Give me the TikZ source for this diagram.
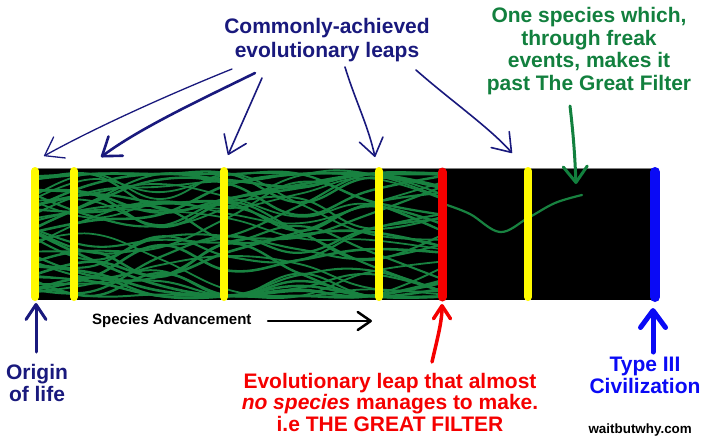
\documentclass[tikz,border=0pt]{standalone}
\usepackage{fontspec}
\setmainfont{Liberation Sans}
\usetikzlibrary{arrows.meta}
\definecolor{navy}{RGB}{25,25,125}
\definecolor{leafgreen}{RGB}{18,128,62}
\definecolor{bandgreen}{RGB}{24,130,64}
\definecolor{vivblue}{RGB}{10,10,245}
\definecolor{vivred}{RGB}{245,0,0}
\definecolor{vivyellow}{RGB}{255,250,0}
\tikzset{
  bar/.style={line width=8pt, line cap=round},
  big/.style={font=\fontsize{21}{#1}\selectfont\bfseries, align=center, inner sep=0pt},
  navyarrow/.style={navy, line width=1.6pt, line cap=round, -{Straight Barb[length=17pt,width=24pt,round]}},
  strand/.style={bandgreen, line cap=round},
}
\begin{document}
\begin{tikzpicture}[x=1pt,y=-1pt]
\useasboundingbox (0,0) rectangle (705,437);
\fill[white] (0,0) rectangle (705,437);
% band
\fill[black] (33,168) rectangle (654,300);
\draw[gray, line width=0.8pt] (33,168) -- (654,168);
% tangle of species
\begin{scope}
\clip (35,168) rectangle (442,300);
\pgfmathsetseed{2718}
\foreach \i in {1,...,42}{
  \pgfmathsetmacro\ya{176+rnd*120}
  \pgfmathsetmacro\yb{max(174,min(296,\ya+(rnd-0.5)*70))}
  \pgfmathsetmacro\yc{max(174,min(296,\yb+(rnd-0.5)*70))}
  \pgfmathsetmacro\yd{max(174,min(296,\yc+(rnd-0.5)*70))}
  \pgfmathsetmacro\ye{max(174,min(296,\yd+(rnd-0.5)*70))}
  \pgfmathsetmacro\yf{max(174,min(296,\ye+(rnd-0.5)*70))}
  \pgfmathsetmacro\yg{max(174,min(296,\yf+(rnd-0.5)*70))}
  \pgfmathsetmacro\lw{1.7+rnd*1.0}
  \draw[strand, line width=\lw pt] plot[smooth,tension=0.7] coordinates {(20,\ya) (90,\yb) (160,\yc) (230,\yd) (300,\ye) (370,\yf) (455,\yg)};
}
\end{scope}
% survivor strand
\draw[strand, line width=2.2pt] plot[smooth,tension=0.6] coordinates {(444,204) (470,214) (500,232) (528,218) (555,203) (582,195)};
% bars
\draw[bar, vivyellow] (35,171) -- (35,297);
\draw[bar, vivyellow] (74,171) -- (74,297);
\draw[bar, vivyellow] (224,171) -- (224,297);
\draw[bar, vivyellow] (379,171) -- (379,297);
\draw[bar, vivyellow] (528,171) -- (528,297);
\draw[bar, vivred, line width=9pt] (442,172) -- (442,297);
\draw[bar, vivblue, line width=10pt] (655,172) -- (655,297);
% texts
\node[big=24, navy] (common) at (327,40) {Commonly-achieved\\evolutionary leaps};
\node[big=22.7, leafgreen] (freak) at (589,51) {One species which,\\through freak\\events, makes it\\past The Great Filter};
\node[big=21.5, vivred] (filter) at (390,402) {Evolutionary leap that almost\\\textit{no species} manages to make.\\i.e THE GREAT FILTER};
\node[big=22, vivblue] (type3) at (645,375) {Type III\\Civilization};
\node[big=22, navy] (origin) at (37,383) {Origin\\of life};
\node[anchor=west, inner sep=0pt, font=\fontsize{15}{18}\selectfont\bfseries] (adv) at (92,321) {Species Advancement};
\node[anchor=east, inner sep=0pt, font=\fontsize{13.4}{16}\selectfont\bfseries] (wbw) at (692,430) {waitbutwhy.com};
% arrow end points
\coordinate (s1) at (232,69);  \coordinate (e1) at (44,156);
\coordinate (s2) at (255,73);  \coordinate (e2) at (101,157);
\coordinate (s3) at (262,78);  \coordinate (e3) at (228,155);
\coordinate (s4) at (345,67);  \coordinate (e4) at (375,157);
\coordinate (s5) at (416,70);  \coordinate (e5) at (512,153);
\coordinate (gs) at (570,106); \coordinate (ge) at (576,184);
\coordinate (os) at (36,352);  \coordinate (oe) at (36,303);
\coordinate (rs) at (432,362); \coordinate (re) at (442,304);
\coordinate (bs) at (653,352); \coordinate (be) at (653,308);
\coordinate (as) at (268,321); \coordinate (ae) at (372,321);
% navy arrows
\draw[navyarrow, line width=1.3pt] (s1) .. controls (175,92) and (100,125) .. (e1);
\draw[navyarrow, line width=2.6pt] (s2) .. controls (200,100) and (140,128) .. (e2);
\draw[navyarrow] (s3) -- (e3);
\draw[navyarrow] (s4) .. controls (355,100) and (368,125) .. (e4);
\draw[navyarrow] (s5) .. controls (450,100) and (490,128) .. (e5);
% green arrow
\draw[leafgreen, line width=3pt, line cap=round, -{Straight Barb[length=16pt,width=24pt,round]}] (gs) .. controls (574,140) and (575,160) .. (ge);
% bottom arrows
\draw[navy, line width=3pt, line cap=round, -{Straight Barb[length=15pt,width=20pt,round]}] (os) -- (oe);
\draw[vivred, line width=3.5pt, line cap=round, -{Straight Barb[length=13pt,width=17pt,round]}] (rs) .. controls (437,340) and (442,322) .. (re);
\draw[vivblue, line width=5pt, line cap=round, -{Straight Barb[length=17pt,width=25pt,round]}] (bs) -- (be);
\draw[black, line width=2.5pt, line cap=round, -{Straight Barb[length=13pt,width=18pt,round]}] (as) -- (ae);
\end{tikzpicture}
\end{document}
